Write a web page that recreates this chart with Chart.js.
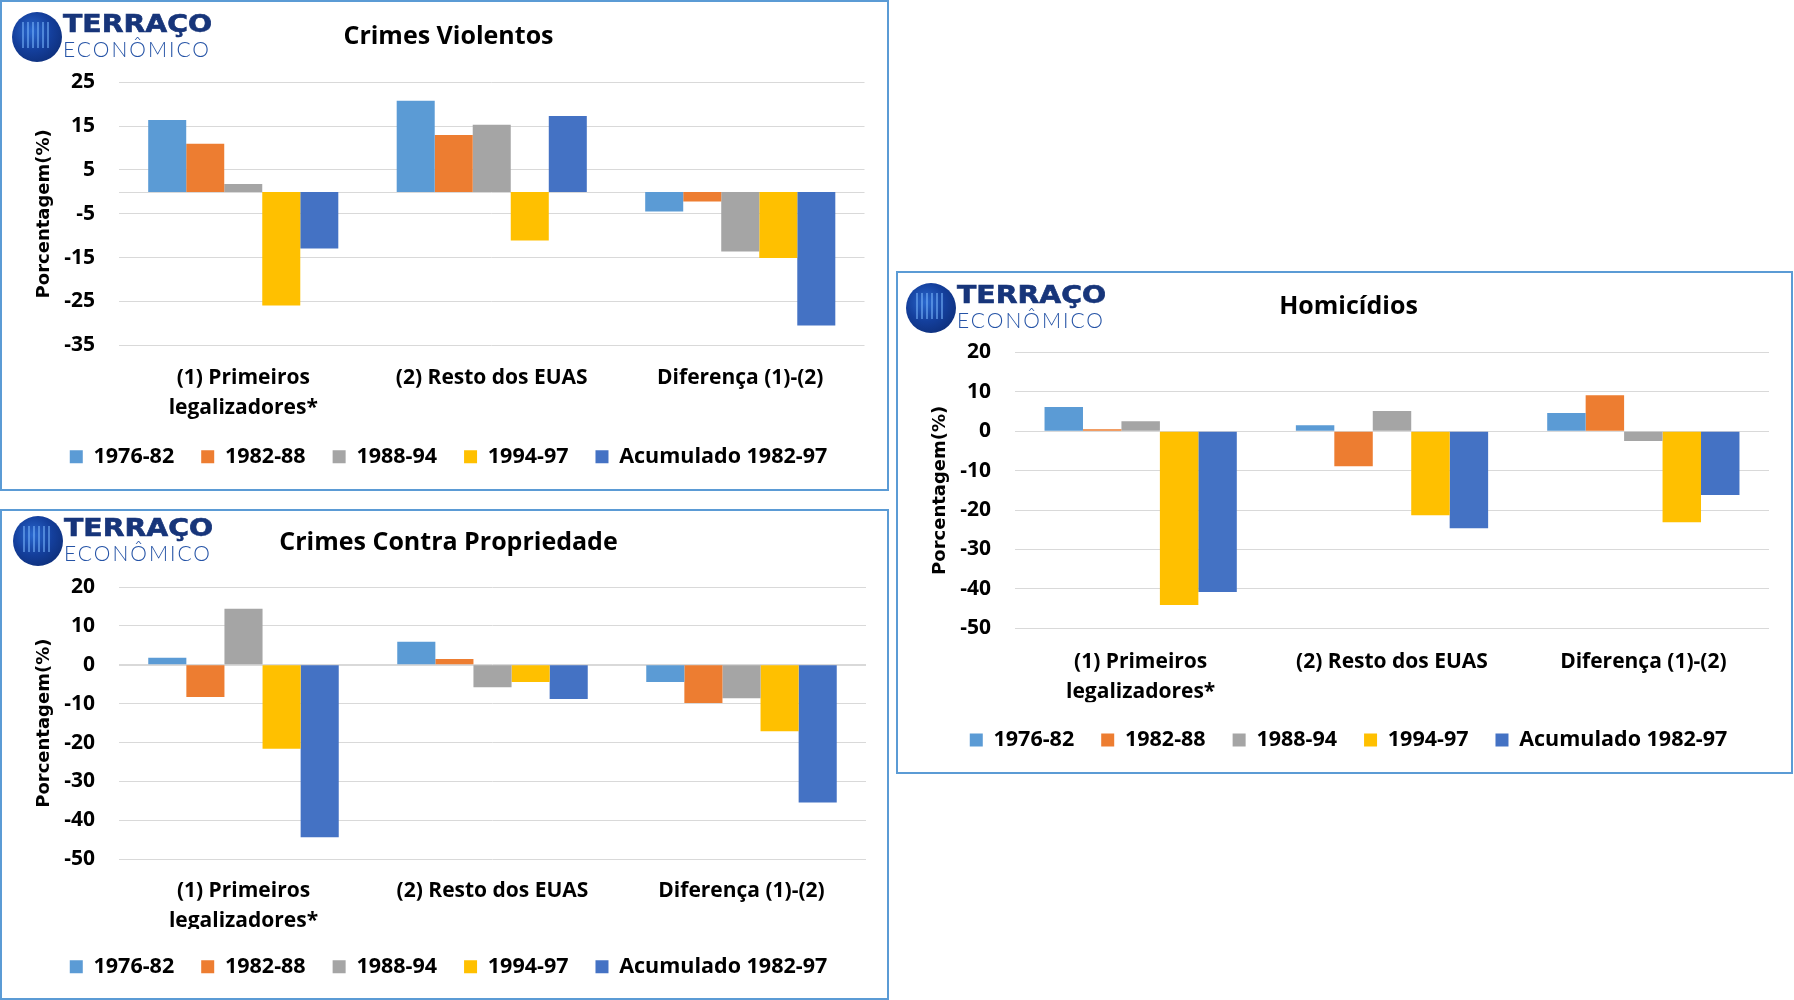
<!DOCTYPE html>
<html>
<head>
<meta charset="utf-8">
<script src="https://cdn.jsdelivr.net/npm/chart.js@4.4.0/dist/chart.umd.min.js"></script>
<style>
body{margin:0;background:#fff;width:1794px;height:1000px;position:relative;overflow:hidden}
.panel{position:absolute}
.panel canvas{position:absolute;left:0;top:0}
.frame{position:absolute;left:0;top:0;right:0;bottom:0;border:2px solid #5B9BD5;pointer-events:none}
.logo{position:absolute;width:210px;height:56px}
.globe{position:absolute;left:0;top:0;width:50px;height:50px;border-radius:50%;overflow:hidden;
  background:radial-gradient(circle at 40% 38%,#2a68cf 0%,#143f9c 45%,#0a2668 100%)}
.globe i{position:absolute;left:10px;top:10px;width:30px;height:26px;
  background:repeating-linear-gradient(90deg,rgba(120,180,250,.55) 0 2px,transparent 2px 5px)}
.t1{position:absolute;left:51px;top:0;font:bold 24px "DejaVu Sans",sans-serif;line-height:24px;color:#17357a;
  transform-origin:0 0;transform:scaleX(1.18);white-space:nowrap;-webkit-text-stroke:0.6px #17357a}
.t2{position:absolute;left:51px;top:26px;font:300 21px Lato,sans-serif;line-height:21px;color:#2553a6;
  letter-spacing:2px;white-space:nowrap}
</style>
</head>
<body>
<div class="panel" id="p1" style="left:0;top:0;width:889px;height:491px"><canvas id="c1" width="889" height="491"></canvas><div class="frame"></div></div>
<div class="panel" id="p2" style="left:0;top:509px;width:889px;height:491px"><canvas id="c2" width="889" height="491"></canvas><div class="frame"></div></div>
<div class="panel" id="p3" style="left:896px;top:271px;width:897px;height:503px"><canvas id="c3" width="897" height="503"></canvas><div class="frame"></div></div>
<script>
const categorias = [['(1) Primeiros','legalizadores*'], '(2) Resto dos EUAS', 'Diferença (1)-(2)'];
const series = ['1976-82','1982-88','1988-94','1994-97','Acumulado 1982-97'];
const cores = ['#5B9BD5','#ED7D31','#A5A5A5','#FFC000','#4472C4'];

// Crimes Violentos
const viol_7682 = [16.4, 20.8, -4.5];
const viol_8288 = [11.0, 13.0, -2.2];
const viol_8894 = [1.8, 15.3, -13.6];
const viol_9497 = [-25.9, -11.1, -15.1];
const viol_acum = [-12.9, 17.3, -30.5];

// Crimes Contra Propriedade
const prop_7682 = [1.8, 5.9, -4.4];
const prop_8288 = [-8.3, 1.5, -9.8];
const prop_8894 = [14.4, -5.8, -8.6];
const prop_9497 = [-21.6, -4.4, -17.1];
const prop_acum = [-44.3, -8.8, -35.4];

// Homicidios
const hom_7682 = [6.1, 1.5, 4.6];
const hom_8288 = [0.5, -8.9, 9.1];
const hom_8894 = [2.5, 5.1, -2.5];
const hom_9497 = [-44.1, -21.3, -23.1];
const hom_acum = [-40.8, -24.6, -16.2];

const FONT = '"Open Sans", sans-serif';

const linhaZero = {
  id:'linhaZero',
  beforeDatasetsDraw(chart){
    const y = Math.round(chart.scales.y.getPixelForValue(0))+0.5, a = chart.chartArea, ctx = chart.ctx;
    ctx.save(); ctx.strokeStyle='#D9D9D9'; ctx.lineWidth=1;
    ctx.beginPath(); ctx.moveTo(a.left,y); ctx.lineTo(a.right,y); ctx.stroke(); ctx.restore();
  }
};

function makeChart(id, titulo, valores, yMin, yMax, L){
  const tSize=25, tLH=tSize*1.2;
  const legSize=21.5, legPad=27;
  const padBottom = L.h - L.legendY - 10 - legSize/2;
  const legendTop = L.h - padBottom - (legSize + legPad + 10);
  return new Chart(document.getElementById(id), {
    type:'bar',
    data:{
      labels:categorias,
      datasets:valores.map((v,i)=>({label:series[i], data:v, backgroundColor:cores[i], borderWidth:0,
        categoryPercentage:0.765, barPercentage:1}))
    },
    options:{
      responsive:false, animation:false,
      layout:{padding:{top:0,left:8,right:0,bottom:padBottom}},
      plugins:{
        title:{display:true, text:titulo, color:'#000', font:{family:FONT,size:tSize,weight:'bold',lineHeight:1.2},
          padding:{top:L.titleY-tLH/2, bottom:L.plotTop-L.titleY-tLH/2}},
        legend:{position:'bottom', labels:{color:'#000', boxWidth:13, boxHeight:13, padding:legPad,
          font:{family:FONT,size:legSize,weight:'bold'}}},
        tooltip:{enabled:false}
      },
      scales:{
        x:{grid:{display:false,drawTicks:false}, border:{display:false},
          ticks:{color:'#000', padding:L.labelY-L.plotBottom-15, maxRotation:0, autoSkip:false,
            font:{family:FONT,size:21,weight:'bold',lineHeight:30/21}},
          afterFit(s){ s.height = legendTop - L.plotBottom; }},
        y:{min:yMin, max:yMax, grid:{color:'#D9D9D9', drawTicks:false}, border:{display:false},
          ticks:{stepSize:10, color:'#000', padding:24, font:{family:FONT,size:21,weight:'bold'}},
          title:{display:true, text:'Porcentagem(%)', color:'#000', font:{family:'"DejaVu Sans", sans-serif',size:18,weight:'bold'},
            padding:{top:44-8-10.8,bottom:0}},
          afterFit(s){ s.width = L.plotLeft - 8; }},
        yR:{position:'right', display:true, min:0, max:1, grid:{display:false}, border:{display:false},
          ticks:{display:false}, afterFit(s){ s.width = L.w - L.plotRight; }}
      }
    },
    plugins:[linhaZero]
  });
}

makeChart('c1','Crimes Violentos',[viol_7682,viol_8288,viol_8894,viol_9497,viol_acum],-35,25,
  {w:889,h:491,plotTop:82.3,plotBottom:345.3,plotLeft:119,plotRight:864.5,titleY:36.7,labelY:377.7,legendY:456.7});
makeChart('c2','Crimes Contra Propriedade',[prop_7682,prop_8288,prop_8894,prop_9497,prop_acum],-50,20,
  {w:889,h:491,plotTop:78,plotBottom:350.3,plotLeft:119,plotRight:866,titleY:34.3,labelY:382,legendY:457.7});
makeChart('c3','Homicídios',[hom_7682,hom_8288,hom_8894,hom_9497,hom_acum],-50,20,
  {w:897,h:503,plotTop:81.3,plotBottom:357.3,plotLeft:119,plotRight:873,titleY:36.3,labelY:390.7,legendY:469});

// logos
[[12,12],[13,516],[906,283]].forEach(p=>{
  const d=document.createElement('div');
  d.className='logo'; d.style.left=p[0]+'px'; d.style.top=p[1]+'px';
  d.innerHTML='<div class="globe"><i></i></div><div class="t1">TERRAÇO</div><div class="t2">ECONÔMICO</div>';
  document.body.appendChild(d);
});
</script>
</body>
</html>
